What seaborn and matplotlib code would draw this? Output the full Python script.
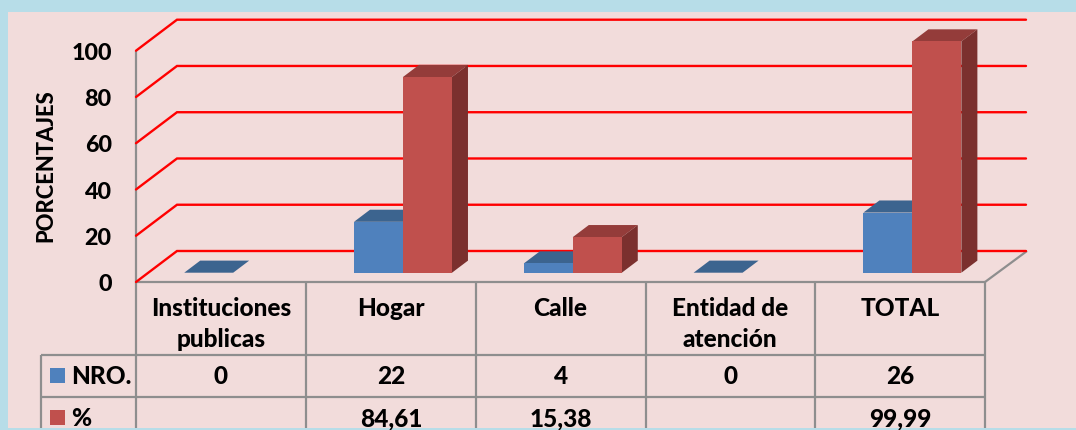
"""Pseudo-3D clustered bars with a data table below, as an office chart draws it."""
import numpy as np
import pandas as pd
import matplotlib.pyplot as plt
from matplotlib.patches import Polygon, Rectangle
from matplotlib.transforms import Affine2D, ScaledTranslation
import seaborn as sns

categories = ["Instituciones\npublicas", "Hogar", "Calle", "Entidad de\natención", "TOTAL"]
nro_values = [0, 22, 4, 0, 26]
pct_values = [np.nan, 84.61, 15.38, np.nan, 99.99]
pct_labels = ["", "84,61", "15,38", "", "99,99"]
y_ticks = [0, 20, 40, 60, 80, 100]

W, H = 1076, 430
BLUE, RED = "#4F81BD", "#C0504D"
BLUE_TOP, RED_TOP = "#3C648F", "#943C3A"
BLUE_SIDE, RED_SIDE = "#335578", "#7B302E"
GREY = "#8E8E8E"
PINK = "#F2DCDB"
SKY = "#B7DDE8"
FS = 16.8
FS_TABLE = 17.6

# pixel frame of the front plane
X0, X1, Y0, Y100 = 136, 985, 282, 50.7
COLS = [136, 306, 476, 646, 815, 985]
DEPTH_X = 41 / ((X1 - X0) / 5)
DEPTH_Y = 31 / ((Y0 - Y100) / 100)
BAR_FRONT, BAR_BACK = 0.30, 0.69


def oblique(x, y, d):
    """Move a data point d of the way back into the chart's depth."""
    return x + d * DEPTH_X, y + d * DEPTH_Y


def draw_bar_depth(ax, bar, top_color, side_color, z):
    x0, x1 = bar.get_x(), bar.get_x() + bar.get_width()
    h = bar.get_height()
    top = [oblique(x0, h, BAR_FRONT), oblique(x1, h, BAR_FRONT),
           oblique(x1, h, BAR_BACK), oblique(x0, h, BAR_BACK)]
    side = [oblique(x1, 0, BAR_FRONT), oblique(x1, h, BAR_FRONT),
            oblique(x1, h, BAR_BACK), oblique(x1, 0, BAR_BACK)]
    ax.add_patch(Polygon(top, closed=True, fc=top_color, ec="none", zorder=z, clip_on=False))
    ax.add_patch(Polygon(side, closed=True, fc=side_color, ec="none", zorder=z, clip_on=False))


def main():
    sns.set_theme(style="white")
    plt.rcParams["font.family"] = ["Lato", "DejaVu Sans"]
    plt.rcParams["font.weight"] = "black"

    fig = plt.figure(figsize=(W / 100, H / 100), dpi=100, facecolor=SKY)

    # background and table, in pixels
    bg = fig.add_axes([0, 0, 1, 1], zorder=0)
    bg.set_xlim(0, W)
    bg.set_ylim(H, 0)
    bg.axis("off")
    bg.add_patch(Rectangle((8, 12), W - 8, 416, fc=PINK, ec="none"))

    line = dict(color=GREY, lw=1.6, solid_capstyle="butt")
    for x in COLS:
        bg.plot([x, x], [Y0, 428], **line)
    bg.plot([41, 41], [355, 428], **line)
    bg.plot([X0, X1], [Y0, Y0], **line)
    for y in (355, 397):
        bg.plot([41, X1], [y, y], **line)
    bg.plot([X0, X0], [Y100, Y0], **line)
    bg.plot([X1, X1 + 42], [Y0, Y0 - 31], **line)

    for y, color, name in ((376, BLUE, "NRO."), (418, RED, "%")):
        bg.add_patch(Rectangle((50, y - 8), 15, 15, fc=color, ec="none"))
        bg.text(71, y + 1, name, fontsize=FS_TABLE, color="black", va="center", ha="left")
    for i in range(5):
        cx = (COLS[i] + COLS[i + 1]) / 2
        bg.text(cx, 377, str(nro_values[i]), fontsize=FS_TABLE, color="black", ha="center", va="center")
        bg.text(cx, 419, pct_labels[i], fontsize=FS_TABLE, color="black", ha="center", va="center")

    # chart, in data units
    ax = fig.add_axes([X0 / W, 1 - Y0 / H, (X1 - X0) / W, (Y0 - Y100) / H], zorder=1)
    ax.patch.set_alpha(0)

    df = pd.DataFrame({
        "categoria": categories * 2,
        "serie": ["NRO."] * 5 + ["%"] * 5,
        "valor": nro_values + pct_values,
    })
    sns.barplot(data=df, x="categoria", y="valor", hue="serie", order=categories,
                hue_order=["NRO.", "%"], palette=[BLUE, RED], width=0.577, gap=0,
                saturation=1, errorbar=None, legend=False, ax=ax)
    ax.set_xlim(-0.5, 4.5)
    ax.set_ylim(0, 100)

    # depth: gridlines on wall and floor
    for v in y_ticks:
        xs, ys = zip((-0.5, v), oblique(-0.5, v, 1), oblique(4.5, v, 1))
        ax.plot(xs, ys, color="#FF0000", lw=1.7, clip_on=False, zorder=1,
                solid_joinstyle="miter")

    # bars are pushed back to their slot in the depth
    shift = Affine2D().translate(BAR_FRONT * DEPTH_X, BAR_FRONT * DEPTH_Y) + ax.transData
    shades = [(BLUE_TOP, BLUE_SIDE, 3), (RED_TOP, RED_SIDE, 5)]
    for container, (top_c, side_c, z) in zip(ax.containers, shades):
        for bar in container:
            if np.isnan(bar.get_height()):
                continue
            draw_bar_depth(ax, bar, top_c, side_c, z)
            bar.set_transform(shift)
            bar.set_clip_on(False)
            bar.set_zorder(z + 1)
            bar.set_edgecolor("none")

    ax.set_yticks(y_ticks)
    ax.set_yticklabels([str(v) for v in y_ticks], fontsize=FS, color="black")
    ax.tick_params(axis="y", length=0, pad=17.5)
    nudge = ScaledTranslation(0, -0.5 / 72, fig.dpi_scale_trans)
    for label in ax.get_yticklabels():
        label.set_transform(label.get_transform() + nudge)
    ax.set_xticks(range(5))
    ax.set_xticklabels(categories, fontsize=FS_TABLE, color="black", linespacing=1.42)
    ax.tick_params(axis="x", length=0, pad=11)
    ax.set_xlabel("")
    ax.set_ylabel("PORCENTAJES", fontsize=15.8, color="black", fontweight="black")
    ax.yaxis.set_label_coords((56 - X0) / (X1 - X0), (Y0 - 166) / (Y0 - Y100))
    sns.despine(ax=ax, left=True, bottom=True)

    fig.savefig("out.png", dpi=100, facecolor=SKY)
    plt.close(fig)


if __name__ == "__main__":
    main()
